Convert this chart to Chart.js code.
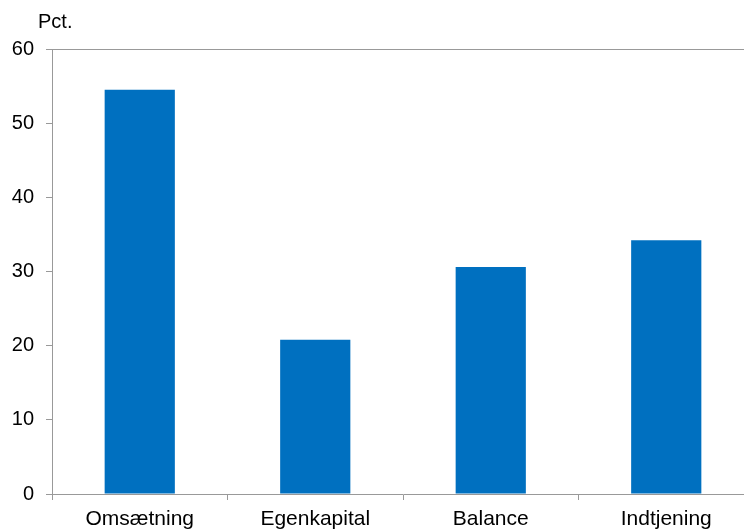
<!DOCTYPE html>
<html>
<head>
<meta charset="utf-8">
<script src="https://cdn.jsdelivr.net/npm/chart.js@4/dist/chart.umd.min.js"></script>
<style>
  html, body { margin: 0; padding: 0; background: #fff; overflow: hidden; }
  #wrap { width: 754px; height: 532px; }
</style>
</head>
<body>
<div id="wrap"><canvas id="chart" width="754" height="532"></canvas></div>
<script>
const categories = ["Omsætning", "Egenkapital", "Balance", "Indtjening"];
const values = [54.5, 20.8, 30.6, 34.2];
const yTicks = [0, 10, 20, 30, 40, 50, 60];

const FONT = "'Liberation Sans', Arial, sans-serif";
const AXIS = "#999999";

// top frame line + "Pct." unit label
const extras = {
  id: "extras",
  afterDraw(chart) {
    const { ctx, chartArea } = chart;
    ctx.save();
    ctx.strokeStyle = AXIS;
    ctx.lineWidth = 1;
    ctx.beginPath();
    ctx.moveTo(chartArea.left, chartArea.top + 0.5);
    ctx.lineTo(chartArea.right, chartArea.top + 0.5);
    ctx.stroke();
    ctx.fillStyle = "#000";
    ctx.font = "20px " + FONT;
    ctx.textBaseline = "alphabetic";
    ctx.fillText("Pct.", 38, 28);
    ctx.restore();
  }
};

new Chart(document.getElementById("chart"), {
  type: "bar",
  data: {
    labels: categories,
    datasets: [{
      data: values,
      backgroundColor: "#0070C0",
      barPercentage: 0.4,
      categoryPercentage: 1.0
    }]
  },
  options: {
    responsive: false,
    animation: false,
    layout: { padding: { top: 49, left: 0, right: 0, bottom: 0 } },
    plugins: { legend: { display: false }, tooltip: { enabled: false } },
    scales: {
      x: {
        grid: { offset: true, drawOnChartArea: false, color: AXIS, tickLength: 6 },
        border: { color: AXIS },
        ticks: { color: "#000", font: { family: FONT, size: 21 }, padding: 7 },
        afterFit(scale) { scale.height = 38; }
      },
      y: {
        min: 0,
        max: 60,
        afterBuildTicks(scale) { scale.ticks = yTicks.map(v => ({ value: v })); },
        grid: { drawOnChartArea: false, color: AXIS, tickLength: 6 },
        border: { color: AXIS },
        ticks: { color: "#000", font: { family: FONT, size: 20 }, padding: 12 },
        afterFit(scale) { scale.width = 52; }
      }
    }
  },
  plugins: [extras]
});
</script>
</body>
</html>
